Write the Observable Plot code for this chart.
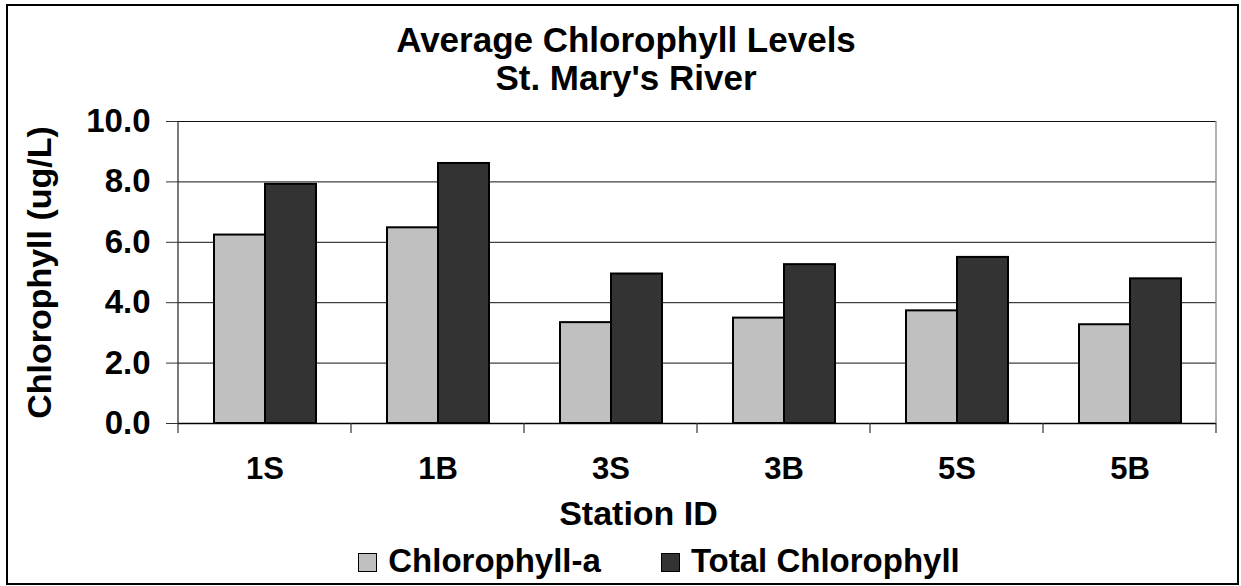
<!DOCTYPE html>
<html>
<head>
<meta charset="utf-8">
<script src="https://cdn.jsdelivr.net/npm/d3@7"></script>
<script src="https://cdn.jsdelivr.net/npm/@observablehq/plot@0.6"></script>
<style>
  html, body { margin: 0; padding: 0; background: #fff; }
  #wrap { position: relative; width: 1241px; height: 586px; overflow: hidden; background: #fff;
          font-family: "Liberation Sans", Arial, sans-serif; font-weight: bold; color: #000; }
  #border { position: absolute; left: 6px; top: 4px; width: 1233px; height: 581px; box-sizing: border-box; border: 2px solid #000; }
  #title { position: absolute; left: 0; top: 21px; width: 1252px; text-align: center; font-size: 35px; line-height: 38px; }
  #chart { position: absolute; left: 0; top: 100px; }
  #xlabel { position: absolute; left: 0; top: 494px; width: 1277px; text-align: center; font-size: 34px; line-height: 38px; }
  #legend { position: absolute; left: 0; top: 542px; width: 1318px; text-align: center; font-size: 33px; line-height: 38px; white-space: nowrap; }
  .item { display: inline-block; }
  .item + .item { margin-left: 60px; }
  .sw { display: inline-block; width: 19px; height: 19px; box-sizing: border-box; border: 1.5px solid #000; vertical-align: baseline; margin-right: 11px; }
</style>
</head>
<body>
<div id="wrap">
  <div id="border"></div>
  <div id="title"></div>
  <div id="chart"></div>
  <div id="xlabel"></div>
  <div id="legend"></div>
</div>
<script>
// ---- data ----
const titleLines = ["Average Chlorophyll Levels", "St. Mary's River"];
const stations = ["1S", "1B", "3S", "3B", "5S", "5B"];
const chlorophyllA = [6.24, 6.48, 3.34, 3.49, 3.73, 3.27];
const totalChlorophyll = [7.92, 8.61, 4.95, 5.26, 5.50, 4.79];
const seriesNames = ["Chlorophyll-a", "Total Chlorophyll"];
const seriesColors = ["#c0c0c0", "#333333"];
const yTicks = [0, 2, 4, 6, 8, 10];
const yLabel = "Chlorophyll (ug/L)";
const xLabel = "Station ID";

// ---- table built from the arrays ----
const rows = [];
stations.forEach((s, i) => {
  rows.push({station: s, series: seriesNames[0], value: chlorophyllA[i]});
  rows.push({station: s, series: seriesNames[1], value: totalChlorophyll[i]});
});

// category boundary ticks, left axis line and right plot-area edge
function frameLines(index, scales, values, dims) {
  const y = scales.y;
  const yMax = yTicks[yTicks.length - 1];
  const y0 = y ? y(0) : dims.height - dims.marginBottom;
  const yTop = y ? y(yMax) : dims.marginTop;
  let edges;
  if (scales.fx) {
    const fx = scales.fx, dom = fx.domain();
    edges = dom.map(d => fx(d));
    edges.push(fx(dom[dom.length - 1]) + fx.bandwidth());
  } else {
    const w = (dims.width - dims.marginLeft - dims.marginRight) / stations.length;
    edges = d3.range(stations.length + 1).map(i => dims.marginLeft + i * w);
  }
  const g = d3.create("svg:g").attr("fill", "none");
  edges.forEach(e => {
    g.append("line").attr("x1", e).attr("x2", e).attr("y1", y0).attr("y2", y0 + 10)
      .attr("stroke", "#333").attr("stroke-width", 1.2);
  });
  const xl = edges[0], xr = edges[edges.length - 1];
  g.append("line").attr("x1", xl).attr("x2", xl).attr("y1", yTop).attr("y2", y0)
    .attr("stroke", "#333").attr("stroke-width", 1.3);
  g.append("line").attr("x1", xr).attr("x2", xr).attr("y1", yTop).attr("y2", y0)
    .attr("stroke", "#888").attr("stroke-width", 1.3);
  return g.node();
}

document.getElementById("title").innerHTML = titleLines.join("<br>");
document.getElementById("xlabel").textContent = xLabel;
document.getElementById("legend").innerHTML = seriesNames.map((n, i) =>
  `<span class="item"><span class="sw" style="background:${seriesColors[i]}"></span>${n}</span>`).join("");

const chart = Plot.plot({
  width: 1241,
  height: 395,
  marginTop: 21,
  marginBottom: 72,
  marginLeft: 176,
  marginRight: 23,
  style: {fontFamily: "'Liberation Sans', Arial, sans-serif", fontWeight: "bold", fontSize: "32px", color: "#000", background: "transparent"},
  fx: {domain: stations, padding: 0},
  x: {domain: seriesNames, paddingInner: 0, paddingOuter: 0.68, axis: null},
  y: {domain: [0, 10]},
  color: {domain: seriesNames, range: seriesColors},
  marks: [
    Plot.ruleY(yTicks.slice(1), {stroke: "#111", strokeWidth: 1}),
    Plot.barY(rows, {fx: "station", x: "series", y: "value", fill: "series", stroke: "#000", strokeWidth: 2}),
    Plot.ruleY([0], {stroke: "#000", strokeWidth: 1.5}),
    Plot.frame({facet: "super", stroke: "none", render: frameLines}),
    Plot.axisY({ticks: yTicks, tickSize: 12, tickPadding: 16, tickFormat: d => d.toFixed(1),
      label: null, fontSize: 33, stroke: "#333"}),
    Plot.axisY({ticks: [], label: yLabel, labelAnchor: "center", labelArrow: "none", labelOffset: 152, fontSize: 34}),
    Plot.axisFx({anchor: "bottom", tickSize: 0, tickPadding: 33, label: null, fontSize: 31})
  ]
});
document.getElementById("chart").appendChild(chart);
</script>
</body>
</html>
